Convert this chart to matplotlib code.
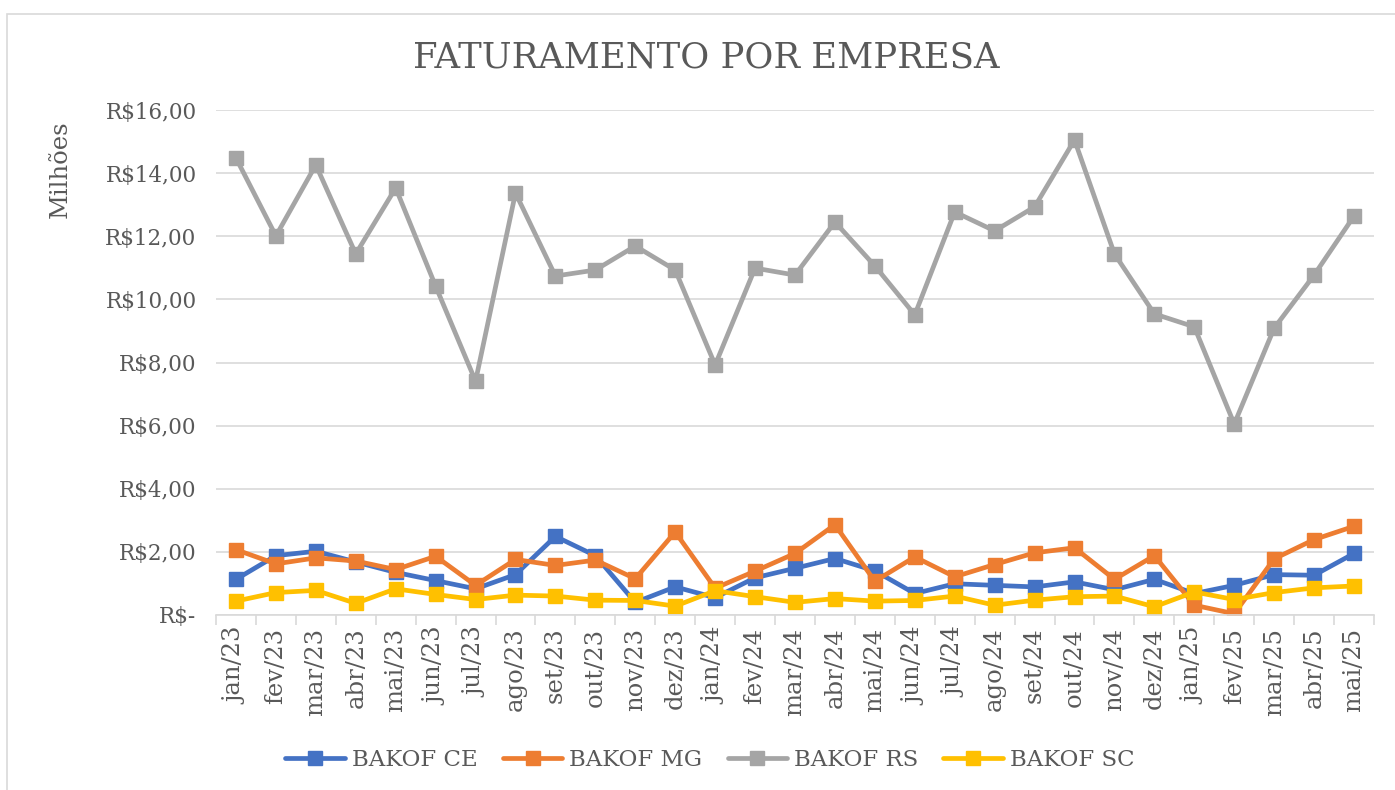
import matplotlib
matplotlib.use("Agg")
import matplotlib.pyplot as plt
from matplotlib.patches import Rectangle


months = [
    "jan/23", "fev/23", "mar/23", "abr/23", "mai/23", "jun/23", "jul/23",
    "ago/23", "set/23", "out/23", "nov/23", "dez/23",
    "jan/24", "fev/24", "mar/24", "abr/24", "mai/24", "jun/24", "jul/24",
    "ago/24", "set/24", "out/24", "nov/24", "dez/24",
    "jan/25", "fev/25", "mar/25", "abr/25", "mai/25",
]

# valores em milhoes de R$
bakof_ce = [
    1.13, 1.88, 2.02, 1.68, 1.35, 1.09, 0.83, 1.28, 2.49, 1.88, 0.40, 0.89,
    0.55, 1.18, 1.48, 1.79, 1.40, 0.68, 0.99, 0.94, 0.89, 1.05, 0.80, 1.13,
    0.68, 0.94, 1.28, 1.26, 1.95,
]
bakof_mg = [
    2.07, 1.62, 1.81, 1.71, 1.44, 1.86, 0.94, 1.76, 1.57, 1.74, 1.15, 2.63,
    0.85, 1.39, 1.95, 2.86, 1.07, 1.84, 1.21, 1.60, 1.97, 2.13, 1.13, 1.88,
    0.31, 0.04, 1.78, 2.39, 2.81,
]
bakof_rs = [
    14.48, 12.01, 14.26, 11.44, 13.53, 10.42, 7.41, 13.37, 10.74, 10.93,
    11.69, 10.93, 7.92, 10.99, 10.77, 12.45, 11.06, 9.51, 12.77, 12.17,
    12.93, 15.05, 11.44, 9.54, 9.13, 6.05, 9.09, 10.77, 12.64,
]
bakof_sc = [
    0.44, 0.71, 0.78, 0.37, 0.83, 0.65, 0.49, 0.63, 0.60, 0.47, 0.46, 0.28,
    0.77, 0.58, 0.40, 0.52, 0.44, 0.46, 0.60, 0.31, 0.47, 0.58, 0.60, 0.26,
    0.73, 0.49, 0.71, 0.86, 0.92,
]

series = [
    ("BAKOF CE", bakof_ce, "#4472C4"),
    ("BAKOF MG", bakof_mg, "#ED7D31"),
    ("BAKOF RS", bakof_rs, "#A5A5A5"),
    ("BAKOF SC", bakof_sc, "#FFC000"),
]

TEXT = "#595959"
GRID = "#D9D9D9"

plt.rcParams["font.family"] = ["DejaVu Serif"]

fig = plt.figure(figsize=(13.95, 7.90), dpi=100)
fig.patches.append(Rectangle((7 / 1395, -0.1), 1.2, 1 - 14 / 790 + 0.1,
                             transform=fig.transFigure, fill=False,
                             edgecolor=GRID, linewidth=1.2))

ax = fig.add_axes([216 / 1395, 175 / 790, 1158 / 1395, 505 / 790])

x = list(range(len(months)))
for name, values, color in series:
    ax.plot(x, values, color=color, linewidth=3.4, marker="s",
            markersize=9.5, label=name, solid_capstyle="round")

ax.set_xlim(-0.5, len(months) - 0.5)
ax.set_ylim(0, 16)
ax.set_yticks(range(0, 17, 2))
ax.set_yticklabels(["R$-"] + [f"R${v},00" for v in range(2, 17, 2)],
                   fontsize=15.5, color=TEXT)
ax.set_xticks(x)
ax.set_xticklabels(months, rotation=90, fontsize=17.5, color=TEXT)
ax.set_xticks([i + 0.5 for i in range(-1, len(months))], minor=True)

ax.grid(axis="y", color=GRID, linewidth=1.2)
ax.set_axisbelow(True)
for side in ["top", "right", "left"]:
    ax.spines[side].set_visible(False)
ax.spines["bottom"].set_color(GRID)
ax.spines["bottom"].set_linewidth(1.2)
ax.tick_params(axis="y", length=0, pad=14)
ax.tick_params(axis="x", which="major", length=0, pad=9)
ax.tick_params(axis="x", which="minor", length=7, color=GRID, width=1.2)

fig.text(413 / 1395, 1 - 57 / 790, "FATURAMENTO POR EMPRESA", fontsize=25.5,
         color=TEXT, va="center", ha="left")
fig.text(60 / 1395, 1 - 169 / 790, "Milhões", fontsize=17.5, color=TEXT,
         rotation=90, va="center", ha="center")

fig.legend(loc="center", bbox_to_anchor=(710 / 1395, 1 - 760 / 790), ncol=4,
           frameon=False, fontsize=16.5, labelcolor=TEXT, handlelength=2.6,
           columnspacing=1.1, handletextpad=0.3)

fig.savefig("out.png", dpi=100)
plt.close(fig)
